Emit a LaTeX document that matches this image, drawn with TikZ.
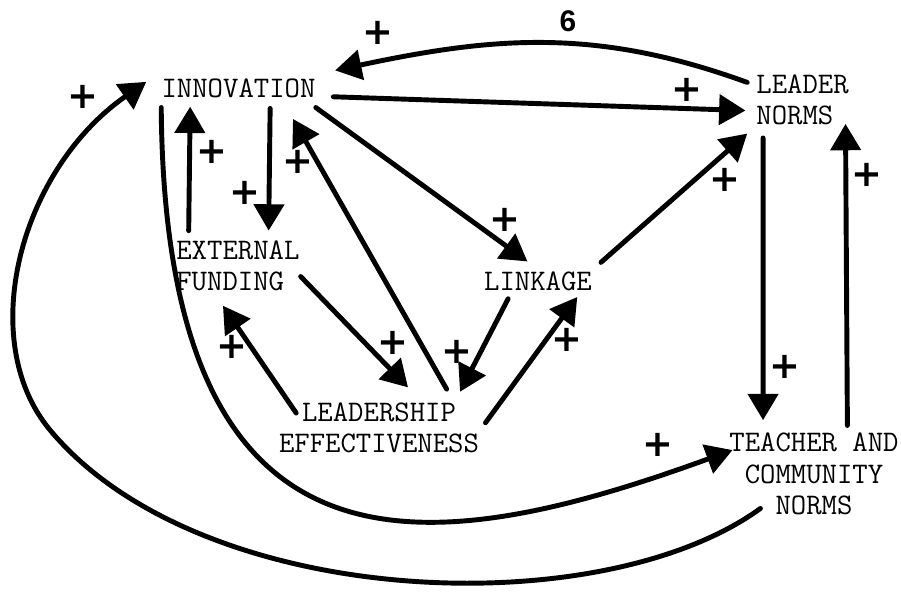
\documentclass[tikz,border=0pt]{standalone}
\usepackage{fontspec}
\usepackage{tikz}
\usetikzlibrary{arrows.meta}
\newfontfamily\plusfont{DejaVu Sans}
\newfontfamily\pagefont{Liberation Sans}

\begin{document}
\begin{tikzpicture}[
	every node/.style={font=\ttfamily\fontsize{17}{18}\selectfont, inner sep=0pt},
	conn/.style={line width=2.8pt, -{Triangle[length=15pt,width=17pt]}},
	pluslbl/.style={font=\plusfont\bfseries\fontsize{21}{21}\selectfont},
	line cap=round,
	line join=round
	]
	\useasboundingbox (0,0) rectangle (18.02,11.84);

	% Variables
	\node (inno) at (4.77,10.08) {INNOVATION};
	\node[anchor=west, align=left] (fund) at (3.52,6.52) {EXTERNAL\\FUNDING};
	\node (link) at (10.76,6.22) {LINKAGE};
	\node[anchor=west, align=left] (lnorm) at (15.12,9.84) {LEADER\\NORMS};
	\node[align=center] (lead) at (7.58,3.28) {LEADERSHIP\\EFFECTIVENESS};
	\node[align=center] (tcn) at (16.28,2.36) {TEACHER AND\\COMMUNITY\\NORMS};
	\node[font=\pagefont\bfseries\fontsize{17}{17}\selectfont] (pg) at (11.36,11.42) {6};

	% Arrows at the top
	\draw[conn] ([xshift=-5pt,yshift=10pt]lnorm.west) to[out=160,in=12] ([xshift=11pt,yshift=10pt]inno.east);
	\draw[conn] ([xshift=10pt,yshift=-5pt]inno.east) -- ([xshift=-6pt,yshift=-6pt]lnorm.west);
	\draw[conn] ([xshift=18pt,yshift=-6pt]inno.south) -- ([xshift=17.5pt,yshift=5.5pt]fund.north);
	\draw[conn] ([xshift=-28pt,yshift=5.5pt]fund.north) -- ([xshift=-27.5pt,yshift=-5pt]inno.south);
	\draw[conn] ([xshift=38.5pt,yshift=7.5pt]lead.north) -- ([xshift=31pt,yshift=-12pt]inno.south);
	\draw[conn] ([yshift=-5.5pt]inno.south east) -- ([xshift=-6pt,yshift=5.5pt]link.north);
	\draw[conn] ([xshift=5pt,yshift=5pt]link.north east) -- ([xshift=-5pt,yshift=-4.5pt]lnorm.south west);

	% Arrows between the norms
	\draw[conn] ([xshift=4pt,yshift=-7pt]lnorm.south west) -- ([xshift=-29pt,yshift=7pt]tcn.north);
	\draw[conn] ([xshift=19pt,yshift=4pt]tcn.north) -- ([xshift=-2pt,yshift=1pt]lnorm.south east);

	% Arrows round LEADERSHIP EFFECTIVENESS
	\draw[conn] ([xshift=0.5pt,yshift=-6pt]fund.east) -- ([xshift=16.5pt,yshift=8.5pt]lead.north);
	\draw[conn] ([xshift=10pt,yshift=8.5pt]lead.west) -- ([xshift=-8.5pt,yshift=-8pt]fund.south);
	\draw[conn] ([xshift=-17pt,yshift=-4.5pt]link.south) -- ([xshift=-11pt,yshift=6pt]lead.north east);
	\draw[conn] ([xshift=3.5pt,yshift=3pt]lead.east) -- ([xshift=-8.5pt,yshift=-3.5pt]link.south east);

	% Long loops
	\draw[conn] ([yshift=-5.5pt]inno.south west) .. controls (3.30,-0.16) and (8.60,0.64) .. ([xshift=2pt,yshift=-10pt]tcn.north west);
	\draw[conn] ([xshift=-30.5pt,yshift=4pt]tcn.south) .. controls (12.0,-0.66) and (4.0,-0.36) .. (1.0,3.24)
		.. controls (-0.5,5.04) and (0.4,8.44) .. ([xshift=-8.5pt,yshift=3.5pt]inno.west);

	% Signs
	\node[pluslbl] (p1) at (7.56,11.18) {+};
	\node[pluslbl] (p2) at (1.66,9.90) {+};
	\node[pluslbl] (p3) at (4.24,8.80) {+};
	\node[pluslbl] (p4) at (4.90,7.98) {+};
	\node[pluslbl] (p5) at (5.96,8.60) {+};
	\node[pluslbl] (p6) at (13.74,10.04) {+};
	\node[pluslbl] (p7) at (10.10,7.44) {+};
	\node[pluslbl] (p8) at (14.50,8.24) {+};
	\node[pluslbl] (p9) at (17.34,8.34) {+};
	\node[pluslbl] (p10) at (4.64,4.90) {+};
	\node[pluslbl] (p11) at (7.86,4.98) {+};
	\node[pluslbl] (p12) at (9.14,4.80) {+};
	\node[pluslbl] (p13) at (11.34,5.04) {+};
	\node[pluslbl] (p14) at (15.70,4.50) {+};
	\node[pluslbl] (p15) at (13.16,2.94) {+};
\end{tikzpicture}
\end{document}
